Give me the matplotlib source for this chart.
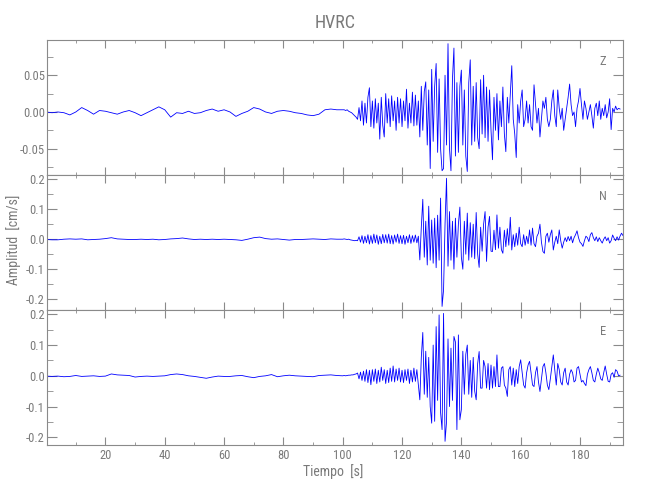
import numpy as np
import matplotlib
matplotlib.use('Agg')
import matplotlib.pyplot as plt
from matplotlib import font_manager
from matplotlib.ticker import MultipleLocator, FormatStrFormatter

# ---------------- data (values in 1e-3 cm/s) ----------------
components = ['Z', 'N', 'E']
title = 'HVRC'
xlabel = 'Tiempo  [s]'
ylabel = 'Amplitud  [cm/s]'
pre_step = 2.0     # s, samples 0..98
act_start = 100.0  # s
act_step = 0.5     # s

z_pre = [0, -1, 0, -1, -4, 0, 6, 2, -3, 2,
         1, -1, -3, 0, 2, -1, -5, -1, 3, 7,
         3, -7, -1, -2, 1, -2, -1, 2, 4, 1,
         3, 0, -6, -2, 1, 6, 4, 0, -2, 1,
         2, 1, -1, -2, -4, -5, -3, 3, 4, 3]
z_act = [3, 3, 2, 3, 1, 0, -1, -3, -5, -7,
         -10, 6, -12, 15, -18, 12, -15, 20, 33, -20,
         15, -22, 18, -15, 12, -37, 20, -18, -34, 25,
         -15, 18, -20, 22, -12, 15, -25, 20, -15, 18,
         -20, 15, -12, 31, -22, 12, -15, 27, -19, 23,
         -18, 15, -34, 35, -25, 28, 41, -45, 30, -77,
         58, -40, 35, 66, -55, 45, -50, -80, -77, 50,
         -45, 93, -50, -80, 45, 87, -60, 40, -55, 35,
         57, -45, 30, -60, -81, 40, 71, -45, 35, -40,
         40, -35, -50, 44, -30, 50, -35, 34, -40, 30,
         -25, -65, 20, -25, 25, -38, 15, -20, 34, -30,
         -54, 20, -15, 25, 63, -10, -30, -62, 10, -15,
         15, 30, -20, -10, 15, -15, 10, -20, -25, 37,
         10, -15, 5, -34, -10, 15, 5, 20, -10, -20,
         -10, 15, 30, -5, -20, 30, 5, -10, 5, -25,
         -10, 5, 20, 38, 10, -5, 0, -20, 5, 15,
         32, 10, -10, 15, 5, -10, 0, 10, -5, -22,
         5, 12, -5, 15, -10, 5, -5, 10, -8, 0,
         18, -24, 5, 0, 8, 3, 5, 4]

n_pre = [-1, -2, -2, 0, 1, 0, 1, -2, -1, 0,
         2, 5, 1, 0, -1, -1, 0, -1, 0, -2,
         -1, 1, 2, 4, 1, -1, 0, -1, 0, -1,
         0, -1, -2, -4, 0, 5, 7, 2, 0, 1,
         -1, -3, -1, -1, 0, 1, 0, -1, 1, 0]
n_act = [0, 1, 0, -1, 0, -2, -3, -4, -5, -4,
         -5, 8, -10, 12, -14, 10, -12, 15, -16, 12,
         -14, 17, -12, 14, -17, 10, -15, 16, -12, 15,
         -13, 17, -15, 12, -16, 14, -10, 17, -14, 12,
         -15, 13, -17, 10, -12, 15, -14, 12, -10, 14,
         -12, 10, -69, 40, 133, -60, 60, -86, 110, -70,
         64, -80, 70, -95, 80, -70, 137, -224, -169, 50,
         203, -90, 92, -70, 60, -100, 70, -60, 50, 107,
         -60, -100, 60, -50, 87, -70, 55, -60, 50, -65,
         89, -50, -94, 40, -40, 50, 92, -74, 40, 76,
         -40, -41, 30, -35, 81, -30, 40, -35, -47, 30,
         -25, 35, -20, 73, -36, 15, -25, 20, -20, 40,
         -15, -25, 15, -20, 10, -15, 31, -20, 37, -15,
         -25, 10, 20, 50, -10, -41, -47, 10, 20, -10,
         15, 31, -36, -10, 10, -15, 31, -5, -30, -10,
         5, -8, 9, -5, 10, -12, 5, 15, 28, 5,
         -10, -15, -24, -5, 10, 5, -8, 15, 22, 5,
         -5, 8, -8, 5, -5, -13, 0, 8, -5, 5,
         -13, -5, 14, 3, -5, 8, -3, 10, 20, 12]

e_pre = [-1, -2, -1, -3, -2, 1, -2, -1, 0, -2,
         -1, 6, 3, 2, 1, -4, -2, -1, -2, -1,
         0, 4, 6, 4, 0, -2, -5, -8, -4, -1,
         -2, -2, 0, 1, -3, -6, -2, 0, 4, -3,
         0, 2, 0, -1, -2, -3, 1, 2, 3, 1]
e_act = [0, 1, 0, 1, 2, 2, 3, 3, 5, 6,
         9, -10, 12, -15, 15, -18, 20, -22, 18, -29,
         20, -18, 22, -25, 18, -20, 28, -15, 20, -25,
         18, -22, 25, -18, 32, -20, 22, -15, 25, -20,
         18, -22, 20, -15, 22, -25, 18, -20, 25, -18,
         20, -30, -78, 60, 141, -60, 80, -70, 60, -100,
         -154, 100, -148, 160, -80, 198, -120, -175, 203, -213,
         -150, 120, -100, 90, -80, 128, 110, -175, 133, -143,
         -110, 80, -60, 70, 100, -60, 50, -70, 60, -50,
         -78, 40, 79, -40, -40, 50, 30, -40, 40, -45,
         35, -40, 30, -35, 68, -35, -35, 25, 30, -30,
         -40, -67, 20, 30, -30, 25, -35, 20, -25, 30,
         52, 10, -30, -40, 10, 35, 47, 10, -30, -35,
         10, 30, -20, -51, -10, 30, 40, 10, -30, -45,
         -10, 30, 68, 20, -30, 40, 20, -20, -30, 10,
         25, -20, -30, 5, 20, 10, -20, -15, 25, 30,
         5, -20, -15, -25, -32, 5, 20, 30, 10, -15,
         -20, 5, 25, 10, -10, -15, 10, 32, 5, -18,
         -20, 5, 10, -5, 20, 15, 0, 2]

pre_series = [z_pre, n_pre, e_pre]
act_series = [z_act, n_act, e_act]
ylims = [(-0.0858, 0.098), (-0.236, 0.214), (-0.225, 0.214)]
ymajor = [0.05, 0.1, 0.1]
yminor = [0.025, 0.05, 0.05]
yfmt = ['%.2f', '%.1f', '%.1f']
xlim = (0.3, 194.5)

# ---------------- style ----------------
gray = '#7a7a7a'
spine_gray = '#8a8a8a'
available = {f.name for f in font_manager.fontManager.ttflist}
font = 'DejaVu Sans'
for cand in ['Liberation Sans Narrow', 'DejaVu Sans Condensed', 'Roboto Condensed',
             'Open Sans Condensed', 'Liberation Sans']:
    if cand in available:
        font = cand
        break
plt.rcParams['font.family'] = [font, 'DejaVu Sans']

fig = plt.figure(figsize=(6.5, 5.0), dpi=100)
left, right = 47 / 650, 623 / 650
tops = [40, 175, 310]
h = 135 / 500

axes = []
for i in range(3):
    bottom = 1 - (tops[i] + 135) / 500
    ax = fig.add_axes([left, bottom, right - left, h])
    axes.append(ax)
    pre = np.asarray(pre_series[i], float) * 1e-3
    act = np.asarray(act_series[i], float) * 1e-3
    t = np.concatenate([np.arange(len(pre)) * pre_step,
                        act_start + np.arange(len(act)) * act_step])
    v = np.concatenate([pre, act])
    ax.plot(t, v, color='#0000ff', lw=0.6)
    ax.set_xlim(*xlim)
    ax.set_ylim(*ylims[i])
    ax.xaxis.set_major_locator(MultipleLocator(20))
    ax.xaxis.set_minor_locator(MultipleLocator(10))
    ax.yaxis.set_major_locator(MultipleLocator(ymajor[i]))
    ax.yaxis.set_minor_locator(MultipleLocator(yminor[i]))
    ax.yaxis.set_major_formatter(FormatStrFormatter(yfmt[i]))
    ax.tick_params(which='both', direction='in', top=True, right=True,
                   colors=spine_gray, labelcolor=gray, labelsize=9)
    ax.tick_params(axis='x', which='major', length=6, pad=3)
    ax.tick_params(axis='x', which='minor', length=2.5)
    ax.tick_params(axis='y', which='major', length=7, pad=1.5)
    ax.tick_params(axis='y', which='minor', length=4)
    for s in ax.spines.values():
        s.set_color(spine_gray)
        s.set_linewidth(0.8)
    if i < 2:
        ax.tick_params(axis='x', labelbottom=False)
    ax.text(0.965, 0.84, components[i], transform=ax.transAxes,
            ha='center', va='center', color=gray, fontsize=9)

axes[0].set_title(title, color=gray, fontsize=13, pad=9)
fig.text(0.513, 0.056, xlabel, ha='center', va='center', color=gray, fontsize=10)
fig.text(0.021, 0.52, ylabel, ha='center', va='center', rotation=90, color=gray, fontsize=10)

fig.savefig('out.png', dpi=100)
